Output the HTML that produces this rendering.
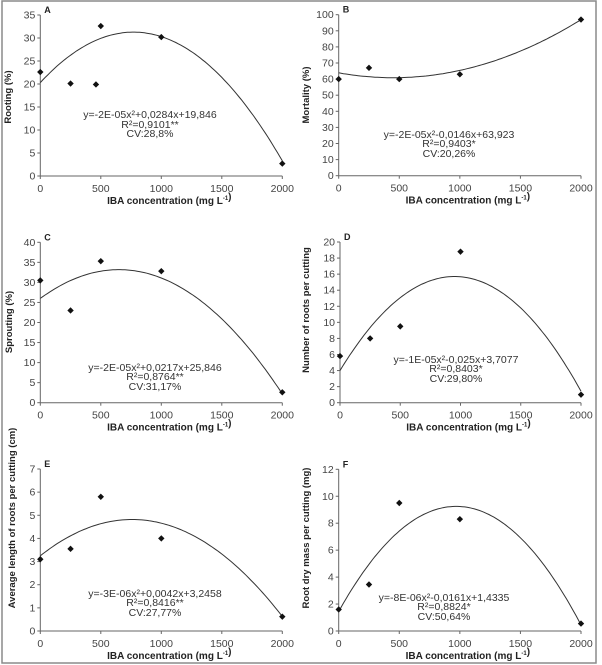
<!DOCTYPE html>
<html><head><meta charset="utf-8"><style>
html,body{margin:0;padding:0;background:#fff;}
svg{display:block;font-family:"Liberation Sans Narrow","Liberation Sans",sans-serif;}
</style></head><body>
<svg id="fig" width="602" height="665" viewBox="0 0 602 665" xmlns="http://www.w3.org/2000/svg">
<rect x="2" y="1" width="594" height="662" fill="#fff" stroke="#8a8a8a" stroke-width="1.5"/>
</svg>
<script>
// shared x data
const xTicks = [0, 500, 1000, 1500, 2000];
// panel A
const xsA = [0, 250, 460, 500, 1000, 2000];
const ptsA = [22.6, 20.1, 19.9, 32.6, 30.2, 2.7];
const fitA = [-1.85e-5, 0.0285, 20.3];
const yTicksA = [0,5,10,15,20,25,30,35];
// panel B
const xsB = [0, 250, 500, 1000, 2000];
const ptsB = [60, 67, 60, 63, 97];
const fitB = [1.5e-5, -0.0135, 63.9];
const yTicksB = [0,10,20,30,40,50,60,70,80,90,100];
// panel C
const xsC = [0, 250, 500, 1000, 2000];
const ptsC = [30.5, 23, 35.3, 32.8, 2.6];
const fitC = [-1.7e-5, 0.0221, 26];
const yTicksC = [0,5,10,15,20,25,30,35,40];
// panel D
const xsD = [0, 250, 500, 1000, 2000];
const ptsD = [5.8, 8, 9.5, 18.8, 1];
const fitD = [-1.296e-5, 0.02463, 4];
const yTicksD = [0,2,4,6,8,10,12,14,16,18,20];
// panel E
const xsE = [0, 250, 500, 1000, 2000];
const ptsE = [3.1, 3.55, 5.8, 4, 0.62];
const fitE = [-2.72e-6, 0.00413, 3.25];
const yTicksE = [0,1,2,3,4,5,6,7];
// panel F
const xsF = [0, 250, 500, 1000, 2000];
const ptsF = [1.6, 3.45, 9.5, 8.3, 0.55];
const fitF = [-8.29e-6, 0.01608, 1.45];
const yTicksF = [0,2,4,6,8,10,12];

const NS = "http://www.w3.org/2000/svg";
const svg = document.getElementById('fig');
function mk(tag, attrs, parent){const e=document.createElementNS(NS,tag);for(const k in attrs)e.setAttribute(k,attrs[k]);(parent||svg).appendChild(e);return e;}

const panels = [
 {id:'a',letter:'A',x0:40.3,x1:282.3,yTop:15,yBot:176,ymax:35,xs:xsA,ys:ptsA,fit:fitA,ticks:yTicksA,ylab:'Rooting (%)',ylx:11,yly:97,
  eq:['y=-2E-05x²+0,0284x+19,846','R²=0,9101**','CV:28,8%'],eqx:150,eqy:[118,128,137]},
 {id:'b',letter:'B',x0:338.7,x1:581,yTop:14.7,yBot:175.7,ymax:100,xs:xsB,ys:ptsB,fit:fitB,ticks:yTicksB,ylab:'Mortality (%)',ylx:309,yly:95,
  eq:['y=-2E-05x²-0,0146x+63,923','R²=0,9403*','CV:20,26%'],eqx:449,eqy:[138,147,157]},
 {id:'c',letter:'C',x0:40.3,x1:282.3,yTop:242.3,yBot:402.7,ymax:40,xs:xsC,ys:ptsC,fit:fitC,ticks:yTicksC,ylab:'Sprouting (%)',ylx:12,yly:322,
  eq:['y=-2E-05x²+0,0217x+25,846','R²=0,8764**','CV:31,17%'],eqx:155,eqy:[371,380,390]},
 {id:'d',letter:'D',x0:340,x1:581,yTop:242,yBot:402.7,ymax:20,xs:xsD,ys:ptsD,fit:fitD,ticks:yTicksD,ylab:'Number of roots per cutting',ylx:309,yly:310,
  eq:['y=-1E-05x²-0,025x+3,7077','R²=0,8403*','CV:29,80%'],eqx:456,eqy:[363,372,382]},
 {id:'e',letter:'E',x0:40.3,x1:282.3,yTop:469,yBot:631,ymax:7,xs:xsE,ys:ptsE,fit:fitE,ticks:yTicksE,ylab:'Average length of roots per cutting  (cm)',ylx:15,yly:518,
  eq:['y=-3E-06x²+0,0042x+3,2458','R²=0,8416**','CV:27,77%'],eqx:155,eqy:[597,606,616]},
 {id:'f',letter:'F',x0:338.7,x1:581,yTop:469.3,yBot:631,ymax:12,xs:xsF,ys:ptsF,fit:fitF,ticks:yTicksF,ylab:'Root dry mass per cutting (mg)',ylx:309,yly:538,
  eq:['y=-8E-06x²-0,0161x+1,4335','R²=0,8824*','CV:50,64%'],eqx:444,eqy:[601,610,620]}
];

panels.forEach(p=>{
  const g = mk('g',{});
  
  
  const sx = v => p.x0 + (v/2000)*(p.x1-p.x0);
  const sy = v => p.yBot - (v/p.ymax)*(p.yBot-p.yTop);
  const ya = mk('line',{x1:p.x0,y1:p.yTop,x2:p.x0,y2:p.yBot,stroke:'#666','stroke-width':1},g);
  
  
  const xa = mk('line',{x1:p.x0,y1:p.yBot,x2:p.x1,y2:p.yBot,stroke:'#666','stroke-width':1},g);
  
  
  p.ticks.forEach(t=>{
    mk('line',{x1:p.x0-3,y1:sy(t),x2:p.x0,y2:sy(t),stroke:'#666'},g);
    const tx = mk('text',{x:p.x0-5,y:sy(t)+3.5,'font-size':10.5,'text-anchor':'end',fill:'#444'},g);
    tx.textContent = t;
    
    
  });
  xTicks.forEach(t=>{
    mk('line',{x1:sx(t),y1:p.yBot,x2:sx(t),y2:p.yBot+3,stroke:'#666'},g);
    const tx = mk('text',{x:sx(t),y:p.yBot+16,'font-size':10.5,'text-anchor':'middle',fill:'#444'},g);
    tx.textContent = t;
    
    
  });
  const lt = mk('text',{x:p.x0+4,y:p.yTop-2,'font-size':9,'font-weight':'bold',fill:'#222'},g);
  lt.textContent = p.letter;
  
  
  const xt = mk('text',{x:(p.x0+p.x1)/2+8,y:p.yBot+28,'font-size':10,'font-weight':'bold','text-anchor':'middle',fill:'#222'},g);
  xt.innerHTML = 'IBA concentration (mg L<tspan font-size="6" dy="-4">-1</tspan>)';
  
  
  const yt = mk('text',{x:p.ylx,y:p.yly,'font-size':9.5,'font-weight':'bold','text-anchor':'middle',fill:'#222',transform:`rotate(-90 ${p.ylx} ${p.yly})`},g);
  yt.textContent = p.ylab;
  
  
  let d='';
  for(let x=0;x<=2000;x+=20){const v=p.fit[0]*x*x+p.fit[1]*x+p.fit[2];d+=(x?'L':'M')+sx(x).toFixed(1)+','+sy(v).toFixed(1);}
  const cv = mk('path',{d:d,fill:'none',stroke:'#333','stroke-width':1},g);
  
  
  p.xs.forEach((x,i)=>{
    const cx=sx(x), cy=sy(p.ys[i]);
    const pt = mk('path',{d:`M${cx},${cy-3.2}L${cx+3.2},${cy}L${cx},${cy+3.2}L${cx-3.2},${cy}Z`,fill:'#111'},g);
    
    
  });
  p.eq.forEach((s,i)=>{
    const et = mk('text',{x:p.eqx,y:p.eqy[i],'font-size':10.5,'text-anchor':'middle',fill:'#333'},g);
    et.textContent = s;
    
    
  });
});
</script>
</body></html>
